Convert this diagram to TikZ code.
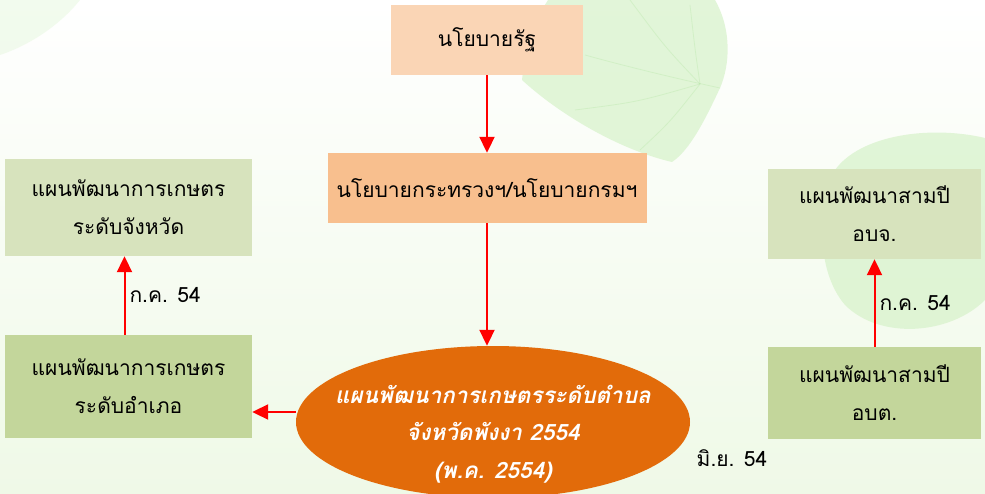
\documentclass[tikz,border=0pt]{standalone}
\usepackage{fontspec}
\newfontfamily\thaifont[Script=Thai]{Loma}
\usetikzlibrary{arrows.meta, shapes.geometric, calc}

\definecolor{policyA}{HTML}{FAD5B5}
\definecolor{policyB}{HTML}{F8BF8E}
\definecolor{planLight}{HTML}{D7E3BD}
\definecolor{planDark}{HTML}{C3D69B}
\definecolor{tambonOrange}{HTML}{E26B0A}
\definecolor{leafGreen}{HTML}{D6F2C9}
\definecolor{veinGreen}{HTML}{B5E6A5}
\definecolor{bgGreen}{HTML}{EFF9E7}

\begin{document}
\begin{tikzpicture}[
    x=1pt, y=-1pt,
    arr/.style={-{Triangle[length=16pt, width=15pt]}, line width=2pt, red},
    box/.style={rectangle, font=\thaifont\fontsize{21}{38}\selectfont, align=center, inner sep=0pt},
    policy/.style={box, minimum height=70pt},
    plan/.style={box, minimum width=247pt, minimum height=97pt},
    when/.style={font=\thaifont\fontsize{21}{24}\selectfont, text=black, inner sep=4pt},
    leaf/.style={fill=leafGreen, opacity=0.7},
    vein/.style={draw=veinGreen, line width=0.8pt, opacity=0.35},
]
% Background and leaves
\useasboundingbox (0,0) rectangle (985,494);
\fill[top color=white, bottom color=bgGreen] (0,0) rectangle (985,494);
\fill[leaf, opacity=0.3] (0,0) -- (80,0) .. controls (60,25) and (30,45) .. (0,55) -- cycle;
\fill[leaf] (548,0) -- (715,0) .. controls (732,30) and (730,65) .. (720,88)
    .. controls (705,120) and (690,150) .. (672,162)
    .. controls (620,150) and (560,115) .. (522,80)
    .. controls (525,50) and (535,20) .. (548,0) -- cycle;
\draw[vein] (720,88) .. controls (660,75) and (610,62) .. (585,55);
\foreach \vx/\vy in {630/0, 690/5, 575/110, 640/150}
    \draw[vein] (700,84) .. controls ($(700,84)!0.5!(\vx,\vy)+(0,5)$) .. (\vx,\vy);
\fill[leaf] (835,170) .. controls (860,135) and (930,125) .. (985,138)
    -- (985,300) .. controls (950,335) and (880,340) .. (845,305)
    .. controls (815,270) and (818,205) .. (835,170) -- cycle;

% Policy levels
\node[policy, fill=policyA, minimum width=192pt] (state) at (487,40) {นโยบายรัฐ};
\node[policy, fill=policyB, minimum width=319pt] (ministry) at (487,188) {นโยบายกระทรวงฯ/นโยบายกรมฯ};
\node[ellipse, fill=tambonOrange, minimum width=394pt, minimum height=152pt, inner sep=0pt]
      (tambon) at (493,422) {};
\node[text=white, align=center, inner sep=0pt, font=\thaifont\bfseries\itshape\fontsize{22.5}{37.5}\selectfont]
      (tambontext) at ([yshift=-12pt]tambon.center) {แผนพัฒนาการเกษตรระดับตำบล\\จังหวัดพังงา 2554\\(พ.ค. 2554)};

% Plans
\node[plan, fill=planLight] (province) at (128.5,207.5) {แผนพัฒนาการเกษตร\\ระดับจังหวัด};
\node[plan, fill=planDark, minimum height=103pt] (district) at (128.5,386.5) {แผนพัฒนาการเกษตร\\ระดับอำเภอ};
\node[plan, fill=planLight, minimum width=213pt, minimum height=90pt] (obj) at (874.5,214) {แผนพัฒนาสามปี\\อบจ.};
\node[plan, fill=planDark, minimum width=213pt, minimum height=92pt] (obt) at (874.5,393) {แผนพัฒนาสามปี\\อบต.};

% Arrows
\draw[arr] (state) -- (ministry);
\draw[arr] (ministry.south) -- (ministry.south |- tambon.north);
\draw[arr] ([yshift=10pt]tambon.west) -- ([yshift=10pt]tambon.west -| district.east);
\draw[arr] ([xshift=-4pt]district.north) -- node[when, right] {ก.ค. 54} ([xshift=-4pt]province.south);
\draw[arr] (obt) -- node[when, right] {ก.ค. 54} (obj);
\node[when] (june) at (732,458) {มิ.ย. 54};

\end{tikzpicture}
\end{document}
